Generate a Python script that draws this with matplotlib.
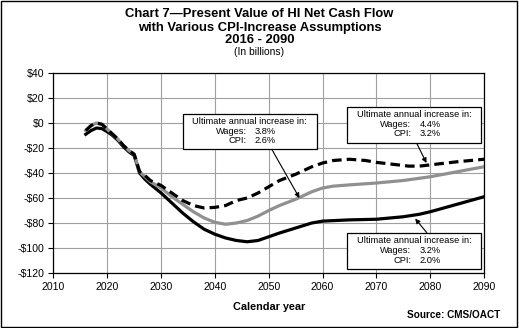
import matplotlib
matplotlib.use('Agg')
import matplotlib.pyplot as plt
from matplotlib.patches import Rectangle

plt.rcParams['font.family'] = ['Liberation Sans', 'DejaVu Sans']

# Present value of HI net cash flow (in billions)
years_low = [2016, 2017, 2018, 2019, 2020, 2021, 2022, 2023, 2024, 2025, 2026, 2027, 2028,
             2030, 2032, 2034, 2036, 2038, 2040, 2042, 2044, 2046, 2048, 2050, 2052, 2055,
             2058, 2060, 2065, 2070, 2075, 2078, 2080, 2085, 2090]
cpi_20 = [-9, -6, -4, -4.5, -7, -10, -14, -19, -23, -26, -40, -45, -49,
          -56, -64, -72, -79, -85, -89, -92, -94, -95, -94, -91, -88, -84,
          -80, -78.5, -77.5, -77, -75, -73, -71, -65, -59]

years_mid = [2016, 2017, 2018, 2019, 2020, 2021, 2022, 2023, 2024, 2025, 2026, 2027, 2028,
             2030, 2032, 2034, 2036, 2038, 2040, 2042, 2044, 2046, 2048, 2050, 2052, 2055,
             2058, 2060, 2062, 2065, 2070, 2075, 2080, 2085, 2090]
cpi_26 = [-6, -2, 0, -1, -5, -9, -13, -18, -22, -25, -39, -43, -47,
          -52, -59, -65, -71, -76, -79.5, -81, -80, -78, -74.5, -70, -66, -61,
          -55, -52, -50.5, -49.5, -48, -46, -43, -39, -35]

years_high = [2016, 2017, 2018, 2019, 2020, 2021, 2022, 2023, 2024, 2025, 2026, 2027, 2028,
              2030, 2032, 2034, 2036, 2038, 2040, 2042, 2044, 2046, 2048, 2050, 2052, 2055,
              2058, 2060, 2062, 2065, 2068, 2070, 2073, 2076, 2078, 2080, 2085, 2090]
cpi_32 = [-6, -2, 0, -1, -5, -9, -13, -18, -22, -25, -39, -42, -46,
          -50, -56, -62, -66, -68, -67.5, -66, -62, -60, -56, -51, -46, -41,
          -35, -32, -30, -29, -30, -31.5, -33, -34.5, -34.5, -33.5, -31, -29]

x_ticks = [2010, 2020, 2030, 2040, 2050, 2060, 2070, 2080, 2090]
y_ticks = [40, 20, 0, -20, -40, -60, -80, -100, -120]

fig = plt.figure(figsize=(5.19, 3.28), dpi=100)
ax = fig.add_axes([0.103, 0.1677, 0.8297, 0.6097])

ax.plot(years_low, cpi_20, color='black', lw=2.3, zorder=3)
ax.plot(years_mid, cpi_26, color='#909090', lw=2.3, zorder=3)
ax.plot(years_high, cpi_32, color='black', lw=2.3, dashes=(3, 1.6), zorder=4)

ax.set_xlim(2010, 2090)
ax.set_ylim(-120, 40)
ax.set_xticks(x_ticks)
ax.set_yticks(y_ticks)
ax.set_yticklabels([f'-${abs(v)}' if v < 0 else f'${v}' for v in y_ticks])
ax.tick_params(labelsize=7.6, length=3.5, width=0.8, pad=3)
ax.grid(True, color='#a0a0a0', lw=0.8)
ax.set_axisbelow(True)
for s in ax.spines.values():
    s.set_linewidth(0.9)
ax.set_xlabel('Calendar year', fontsize=7.8, fontweight='bold', labelpad=7)

# titles
fig.text(0.5, 0.956, 'Chart 7\u2014Present Value of HI Net Cash Flow', ha='center', va='center',
         fontsize=9.4, fontweight='bold')
fig.text(0.5, 0.916, 'with Various CPI-Increase Assumptions', ha='center', va='center',
         fontsize=9.4, fontweight='bold')
fig.text(0.5, 0.877, '2016 - 2090', ha='center', va='center', fontsize=9.4, fontweight='bold')
fig.text(0.5, 0.840, '(In billions)', ha='center', va='center', fontsize=7.4)
fig.text(0.964, 0.039, 'Source: CMS/OACT', ha='right', va='center', fontsize=7.2, fontweight='bold')

# figure border
fig.patches.append(Rectangle((0.002, 0.003), 0.995, 0.994, transform=fig.transFigure,
                             fill=False, edgecolor='black', lw=1.0))


def note_box(x0, y0, x1, y1, wages, cpi, start, tip):
    ax.add_patch(Rectangle((x0, y0), x1 - x0, y1 - y0, transform=ax.transAxes,
                           facecolor='white', edgecolor='black', lw=0.9, zorder=6))
    w = x1 - x0
    h = y1 - y0
    fs = 6.7
    ax.text(x0 + w / 2, y1 - 0.2 * h, 'Ultimate annual increase in:', transform=ax.transAxes,
            ha='center', va='center', fontsize=fs, zorder=7)
    ax.text(x0 + 0.48 * w, y1 - 0.48 * h, 'Wages:', transform=ax.transAxes,
            ha='right', va='center', fontsize=fs, zorder=7)
    ax.text(x0 + 0.54 * w, y1 - 0.48 * h, wages, transform=ax.transAxes,
            ha='left', va='center', fontsize=fs, zorder=7)
    ax.text(x0 + 0.48 * w, y1 - 0.75 * h, 'CPI:', transform=ax.transAxes,
            ha='right', va='center', fontsize=fs, zorder=7)
    ax.text(x0 + 0.54 * w, y1 - 0.75 * h, cpi, transform=ax.transAxes,
            ha='left', va='center', fontsize=fs, zorder=7)
    ax.annotate('', xy=tip, xycoords='data', xytext=start, textcoords='axes fraction',
                arrowprops=dict(arrowstyle='-|>', color='black', lw=0.8, mutation_scale=7,
                                shrinkA=0, shrinkB=0), zorder=5)


note_box(0.300, 0.6185, 0.611, 0.7935, '3.8%', '2.6%', (0.507, 0.6185), (2055.7, -60))
note_box(0.6825, 0.6515, 0.9924, 0.8285, '4.4%', '3.2%', (0.8437, 0.6485), (2079.3, -32))
note_box(0.682, 0.0185, 0.993, 0.2015, '3.2%', '2.0%', (0.867, 0.2015), (2077.2, -76.5))

fig.savefig('out.png', dpi=100)
